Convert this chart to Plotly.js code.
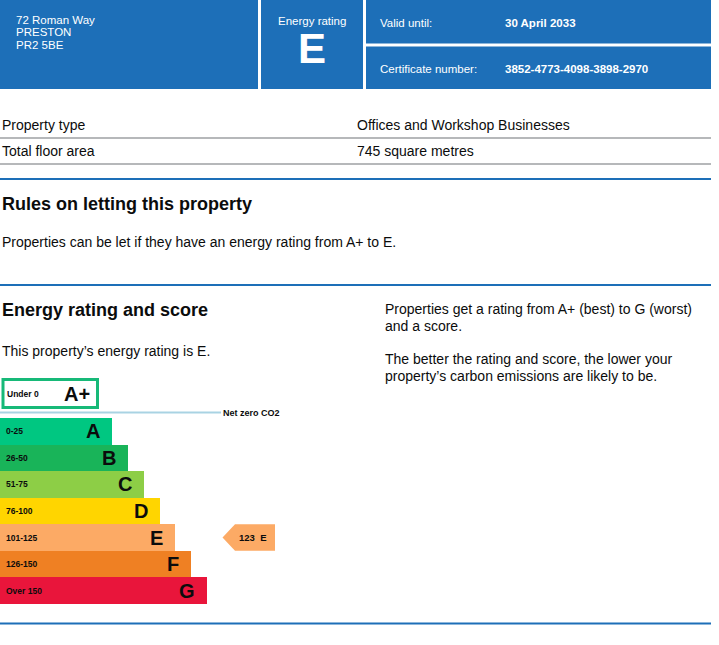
<!DOCTYPE html>
<html><head><meta charset="utf-8">
<script src="https://cdn.plot.ly/plotly-3.0.1.min.js"></script>
<style>html,body{margin:0;padding:0;background:#fff}#chart{width:719px;height:645px}</style>
</head><body><div id="chart"></div>
<script>
// ---- data ----
const bands = ["A","B","C","D","E","F","G"];
const scoreRanges = ["0-25","26-50","51-75","76-100","101-125","126-150","Over 150"];
const barLengths = [7,8,9,10,11,12,13];
const bandColors = ["#00c781","#19b459","#8dce46","#ffd500","#fcaa65","#ef8023","#e9153b"];
const topBand = "A+";
const topRange = "Under 0";
const netZeroLabel = "Net zero CO2";
const score = 123;
const rating = "E";
const addressLines = ["72 Roman Way","PRESTON","PR2 5BE"];
const validUntil = "30 April 2033";
const certificateNumber = "3852-4773-4098-3898-2970";
const propertyType = "Offices and Workshop Businesses";
const floorArea = "745 square metres";

// ---- layout helpers ----
const W = 719, H = 645;
const X = p => p / W, Y = p => 1 - p / H;
const FONT = "Liberation Sans, Arial, sans-serif";
const BLUE = "#1d6fb8";
const GREY = "#b6b8ba";

const ann = [];
function t(text, x, y, size, opts = {}) {
  ann.push(Object.assign({
    text, x: X(x), y: Y(y), xref: "paper", yref: "paper",
    xanchor: "left", yanchor: "middle", showarrow: false,
    font: { family: FONT, size, color: opts.color || "#0b0c0c" }
  }, opts.extra || {}));
}
const shapes = [];
function rect(x0, y0, x1, y1, fill, line) {
  shapes.push({ type: "rect", xref: "paper", yref: "paper", x0: X(x0), x1: X(x1), y0: Y(y1), y1: Y(y0),
    fillcolor: fill, line: line || { width: 0 }, layer: "below" });
}
function hline(x0, x1, y, color, width) {
  shapes.push({ type: "line", xref: "paper", yref: "paper", x0: X(x0), x1: X(x1), y0: Y(y), y1: Y(y),
    line: { color, width } });
}

// header
rect(0, 0, 258, 89, BLUE);
rect(261, 0, 363, 89, BLUE);
rect(366, 0, 711, 43.5, BLUE);
rect(366, 46.5, 711, 89, BLUE);
addressLines.forEach((l, i) => t(l, 14, 20 + i * 12.5, 11.5, { color: "#fff" }));
t("Energy rating", 312, 20.5, 11.5, { color: "#fff", extra: { xanchor: "center" } });
t("<b>" + rating + "</b>", 312, 48.5, 42, { color: "#fff", extra: { xanchor: "center" } });
t("Valid until:", 378, 23, 11.5, { color: "#fff" });
t("<b>" + validUntil + "</b>", 503, 23, 11.5, { color: "#fff" });
t("Certificate number:", 378, 69, 11.5, { color: "#fff" });
t("<b>" + certificateNumber + "</b>", 503, 69, 11.5, { color: "#fff" });

// property table
t("Property type", 0, 125, 14);
t(propertyType, 355, 125, 14);
hline(0, 711, 138, GREY, 2);
t("Total floor area", 0, 151, 14);
t(floorArea, 355, 151, 14);
hline(0, 711, 164, GREY, 2);
hline(0, 711, 179, BLUE, 2);

t("<b>Rules on letting this property</b>", 0, 204, 18);
t("Properties can be let if they have an energy rating from A+ to " + rating + ".", 0, 242, 14);
hline(0, 711, 285, BLUE, 2);

t("<b>Energy rating and score</b>", 0, 310, 18);
t("This property\u2019s energy rating is " + rating + ".", 0, 351, 14);
t("Properties get a rating from A+ (best) to G (worst)", 383, 309, 14);
t("and a score.", 383, 325.5, 14);
t("The better the rating and score, the lower your", 383, 359, 14);
t("property\u2019s carbon emissions are likely to be.", 383, 376, 14);

// A+ box and net zero line
shapes.push({ type: "rect", xref: "paper", yref: "paper", x0: X(3), x1: X(97.5), y0: Y(407.5), y1: Y(379.5),
  fillcolor: "#fff", line: { color: "#17b978", width: 3 } });
t("<b>" + topRange + "</b>", 4.5, 394, 8.5);
t("<b>" + topBand + "</b>", 76.5, 394, 20, { extra: { xanchor: "center" } });
hline(0, 221, 412.5, "#a9d3e3", 2);
t("<b>" + netZeroLabel + "</b>", 220.5, 412.5, 9);

hline(0, 711, 623.5, BLUE, 2);

// bar labels
const yIdx = bands.map((b, i) => i);
bands.forEach((b, i) => {
  ann.push({ text: "<b>" + scoreRanges[i] + "</b>", x: X(4), y: yIdx[i], xref: "paper", yref: "y",
    xanchor: "left", yanchor: "middle", showarrow: false, font: { family: FONT, size: 8.5, color: "#0b0c0c" } });
  ann.push({ text: "<b>" + b + "</b>", x: barLengths[i], y: yIdx[i], xref: "x", yref: "y", xshift: -10,
    xanchor: "right", yanchor: "middle", showarrow: false, font: { family: FONT, size: 20, color: "#0b0c0c" } });
});

// score arrow
const ri = bands.indexOf(rating);
const xt = X(222.5), xb = X(235), xr = X(275);
shapes.push({ type: "path", xref: "paper", yref: "y",
  path: `M ${xb},${ri - 0.5} L ${xr},${ri - 0.5} L ${xr},${ri + 0.5} L ${xb},${ri + 0.5} L ${xt},${ri} Z`,
  fillcolor: bandColors[ri], line: { width: 0 } });
ann.push({ text: "<b>" + score + "\u00a0\u00a0" + rating + "</b>", x: X(252.5), y: ri, xref: "paper", yref: "y",
  xanchor: "center", yanchor: "middle", showarrow: false, font: { family: FONT, size: 9.5, color: "#0b0c0c" } });

const trace = {
  type: "bar", orientation: "h", x: barLengths, y: yIdx, width: 1,
  marker: { color: bandColors, line: { width: 0 } }, hoverinfo: "skip", showlegend: false
};

const layout = {
  width: W, height: H, margin: { l: 0, r: 0, t: 0, b: 0 },
  paper_bgcolor: "#fff", plot_bgcolor: "rgba(0,0,0,0)",
  xaxis: { domain: [0, 1], range: [0, W / 15.95], visible: false, fixedrange: true },
  yaxis: { domain: [Y(604), Y(418)], range: [6.5, -0.5], visible: false, fixedrange: true },
  bargap: 0, shapes, annotations: ann, showlegend: false
};
Plotly.newPlot("chart", [trace], layout, { displayModeBar: false, staticPlot: true });
</script></body></html>
